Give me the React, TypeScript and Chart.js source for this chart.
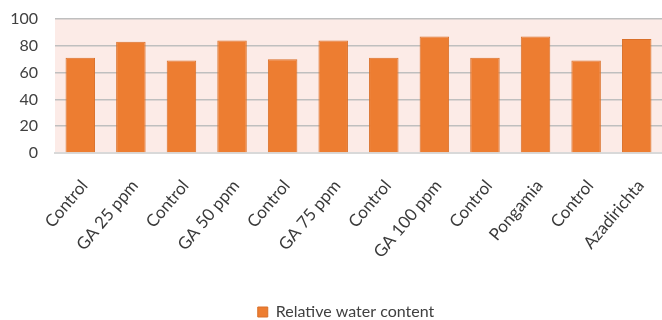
import React, { useEffect, useRef } from "react";
import { Chart, registerables } from "chart.js";

Chart.register(...registerables);

const categories = [
  "Control", "GA 25 ppm", "Control", "GA 50 ppm", "Control", "GA 75 ppm",
  "Control", "GA 100 ppm", "Control", "Pongamia", "Control", "Azadirichta",
];
const relativeWaterContent = [71, 83, 69, 84, 70, 84, 71, 87, 71, 87, 69, 85];
const seriesLabel = "Relative water content";
const yTicks = [0, 20, 40, 60, 80, 100];

const FONT = "Lato, 'Open Sans', sans-serif";

const plotBg = {
  id: "plotBg",
  afterLayout(chart: any) {
    // widen the y scale's label clip region to the canvas edge
    if (chart.scales.y) chart.scales.y.left = 0;
  },
  beforeDraw(chart: any) {
    const { ctx, chartArea } = chart;
    if (!chartArea) return;
    ctx.save();
    ctx.fillStyle = "#FCEBE7";
    ctx.fillRect(chartArea.left, chartArea.top, chartArea.right - chartArea.left, chartArea.bottom - chartArea.top);
    ctx.restore();
  },
};

export default function App() {
  const ref = useRef<HTMLCanvasElement | null>(null);
  useEffect(() => {
    document.body.style.margin = "0";
    const chart = new Chart(ref.current!, {
      type: "bar",
      data: {
        labels: categories,
        datasets: [
          {
            label: seriesLabel,
            data: relativeWaterContent,
            backgroundColor: "#ED7D31",
            borderColor: "#D9702A",
            borderWidth: 1,
            barPercentage: 0.583,
            categoryPercentage: 1,
          },
        ],
      },
      options: {
        animation: false,
        responsive: false,
        maintainAspectRatio: false,
        layout: { padding: { top: 19, right: -11, left: 19, bottom: -10 } },
        plugins: {
          legend: {
            position: "bottom",
            labels: {
              font: { family: FONT, size: 16 },
              color: "#404040",
              boxWidth: 10,
              boxHeight: 10,
              padding: 0,
            },
          },
          tooltip: { enabled: false },
        },
        scales: {
          x: {
            grid: { display: false, drawTicks: false },
            border: { display: true, color: "#D9D9D9", width: 2 },
            ticks: {
              minRotation: 50,
              maxRotation: 50,
              autoSkip: false,
              color: "#3A3A3A",
              font: { family: FONT, size: 17 },
              padding: 23,
              labelOffset: 4,
            },
            afterFit(scale: any) {
              scale.height = 151;
              scale.paddingLeft = 0;
              scale.paddingRight = 0;
            },
          },
          y: {
            min: 0,
            max: 100,
            afterBuildTicks(scale: any) {
              scale.ticks = yTicks.map((v) => ({ value: v }));
            },
            grid: { color: "#BFBFBF", lineWidth: 1.5, drawTicks: false },
            border: { display: false },
            ticks: {
              color: "#404040",
              font: { family: FONT, size: 16 },
              padding: 17,
            },
            afterFit(scale: any) {
              scale.width = 36;
              scale.paddingTop = 0;
              scale.paddingBottom = 0;
            },
          },
        },
      },
      plugins: [plotBg],
    } as any);
    return () => chart.destroy();
  }, []);
  return (
    <div style={{ position: "absolute", left: 0, top: 0, width: 662, height: 320, background: "#fff", overflow: "hidden" }}>
      <canvas ref={ref} width={662} height={320} />
    </div>
  );
}
